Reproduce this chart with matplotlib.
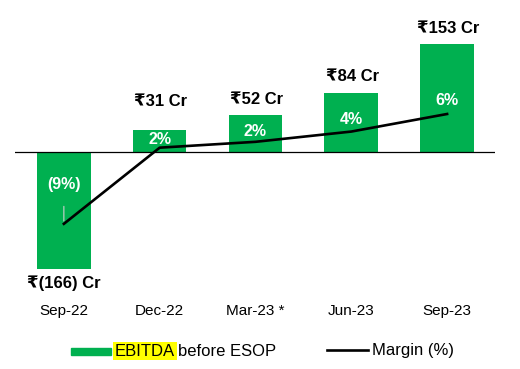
import matplotlib
matplotlib.use("Agg")
import matplotlib.pyplot as plt
from matplotlib.lines import Line2D
from matplotlib.patches import Rectangle

plt.rcParams['font.family'] = ['Liberation Sans', 'DejaVu Sans']

quarters = ['Sep-22', 'Dec-22', 'Mar-23 *', 'Jun-23', 'Sep-23']
ebitda = [-166, 31, 52, 84, 153]          # Rs Cr, before ESOP
ebitda_labels = ['₹(166) Cr', '₹31 Cr', '₹52 Cr', '₹84 Cr', '₹153 Cr']
margin = [-9.0, 1.4, 2.2, 3.6, 6.0]       # %
margin_labels = ['(9%)', '2%', '2%', '4%', '6%']

green = '#00B050'

fig = plt.figure(figsize=(5.2, 3.69), dpi=100)
ax = fig.add_axes([15/520, 1 - 300/369, 480/520, 290/369])
x = list(range(len(quarters)))

bars = ax.bar(x, ebitda, width=0.56, color=green, zorder=2)
ax.axhline(0, color='black', lw=0.9, zorder=3)
ax.set_xlim(-0.51, 4.5)
ax.set_ylim(-210.6, 201.3)
ax.set_yticks([])
ax.set_xticks(x)
ax.set_xticklabels(quarters, fontsize=11)
ax.tick_params(axis='x', length=0, pad=3)
for s in ax.spines.values():
    s.set_visible(False)

# value labels (the Dec-22 one sits a bit higher in the original)
lift = [0, 9, 0, 0, 0]
for xi, v, lab, up in zip(x, ebitda, ebitda_labels, lift):
    if v >= 0:
        ax.annotate(lab, (xi, v), xytext=(1, 6 + up), textcoords='offset points',
                    ha='center', va='bottom', fontsize=12, fontweight='bold')
    else:
        ax.annotate(lab, (xi, v), xytext=(0, -5), textcoords='offset points',
                    ha='center', va='top', fontsize=12, fontweight='bold')

# margin line on secondary axis
ax2 = ax.twinx()
ax2.set_ylim(-19.4, 20.2)
ax2.plot(x, margin, color='black', lw=1.9, zorder=4)
ax2.set_yticks([])
for s in ax2.spines.values():
    s.set_visible(False)

# label offsets above the line points, in points
raise_pt = [28, 6, 7.5, 8.5, 10]
for xi, m, lab, r in zip(x, margin, margin_labels, raise_pt):
    if m < 0:
        ax2.annotate(lab, (xi, m), xytext=(0, r), textcoords='offset points',
                     ha='center', va='center', fontsize=11.5, fontweight='bold',
                     color='white',
                     arrowprops=dict(arrowstyle='-', color='#d0d0d0', lw=0.8,
                                     shrinkA=8, shrinkB=2))
    else:
        ax2.annotate(lab, (xi, m), xytext=(0, r), textcoords='offset points',
                     ha='center', va='center', fontsize=11.5, fontweight='bold',
                     color='white')

# legend (drawn by hand to get the highlighted word)
fig.add_artist(Rectangle((71/520, 1 - 355/369), 40/520, 7/369,
                         transform=fig.transFigure, color=green))
fig.text(115/520, 1 - 351/369, 'EBITDA', fontsize=12, va='center', ha='left',
         bbox=dict(boxstyle='square,pad=0.1', fc='#ffff00', ec='none'))
fig.text(178/520, 1 - 351/369, 'before ESOP', fontsize=12, va='center', ha='left')
fig.add_artist(Line2D([327/520, 368/520], [1 - 350/369, 1 - 350/369],
                      transform=fig.transFigure, color='black', lw=1.9))
fig.text(372/520, 1 - 351/369, 'Margin (%)', fontsize=12, va='center', ha='left')

fig.savefig('out.png', dpi=100)
